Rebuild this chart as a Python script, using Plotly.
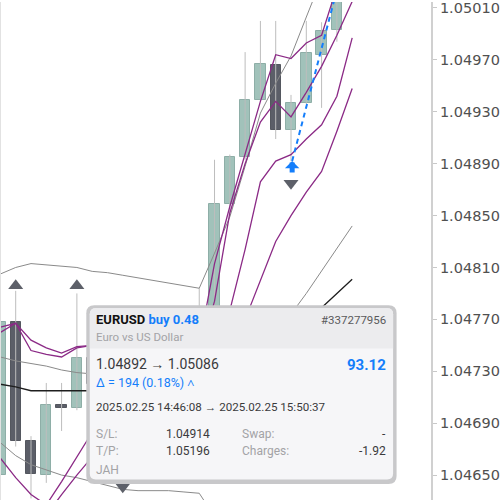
import plotly.graph_objects as go
import pandas as pd

# ---------------- data ----------------
bar_times = list(pd.date_range("2025-02-25 10:00", periods=24, freq="15min"))
candle_times = bar_times[:23]

opens  = [1.04650, 1.04768, 1.04676, 1.04650, 1.04704, 1.04702, 1.04740, 1.04720, 1.04690, 1.04668,
          1.04690, 1.04705, 1.04700, 1.04720, 1.04740, 1.04859, 1.04895, 1.04939, 1.04966, 1.04916,
          1.04937, 1.04974, 1.04993]
highs  = [1.04772, 1.04792, 1.04680, 1.04721, 1.04721, 1.04790, 1.04748, 1.04728, 1.04700, 1.04700,
          1.04715, 1.04718, 1.04728, 1.04794, 1.04893, 1.04897, 1.04976, 1.05000, 1.05000, 1.04943,
          1.05000, 1.04999, 1.05040]
lows   = [1.04640, 1.04672, 1.04632, 1.04644, 1.04684, 1.04700, 1.04700, 1.04670, 1.04646, 1.04660,
          1.04680, 1.04690, 1.04692, 1.04712, 1.04735, 1.04850, 1.04893, 1.04938, 1.04909, 1.04892,
          1.04936, 1.04933, 1.04984]
closes = [1.04768, 1.04676, 1.04651, 1.04704, 1.04702, 1.04740, 1.04720, 1.04690, 1.04668, 1.04690,
          1.04705, 1.04700, 1.04720, 1.04740, 1.04859, 1.04895, 1.04939, 1.04967, 1.04916, 1.04937,
          1.04975, 1.04992, 1.05030]

bb_upper = [1.04805, 1.04810, 1.04813, 1.04812, 1.04811, 1.04810, 1.04807, 1.04806, 1.04804, 1.04802,
            1.04800, 1.04798, 1.04796, 1.04794, 1.04821, 1.04849, 1.04888, 1.04929, 1.04952, 1.04973,
            1.05003, 1.05034, 1.05062, 1.05090]
bb_middle = [1.04741, 1.04738, 1.04736, 1.04734, 1.04731, 1.04729, 1.04728, 1.04726, 1.04725, 1.04724,
             1.04724, 1.04724, 1.04724, 1.04725, 1.04729, 1.04735, 1.04743, 1.04751, 1.04760, 1.04774,
             1.04790, 1.04807, 1.04824, 1.04842]
bb_lower = [1.04675, 1.04665, 1.04658, 1.04654, 1.04650, 1.04648, 1.04645, 1.04642, 1.04639, 1.04638,
            1.04638, 1.04638, 1.04637, 1.04636, 1.04618, 1.04610, 1.04598, 1.04573, 1.04568, 1.04575,
            1.04577, 1.04580, 1.04586, 1.04594]
ma_slow = [1.04720, 1.04718, 1.04715, 1.04715, 1.04715, 1.04715, 1.04715, 1.04714, 1.04714, 1.04714,
           1.04714, 1.04714, 1.04714, 1.04715, 1.04717, 1.04721, 1.04725, 1.04731, 1.04738, 1.04750,
           1.04767, 1.04779, 1.04790, 1.04801]

env_high_1 = [1.04764, 1.04767, 1.04746, 1.04743, 1.04741, 1.04748, 1.04750, 1.04746, 1.04740, 1.04737,
              1.04740, 1.04742, 1.04744, 1.04750, 1.04813, 1.04857, 1.04898, 1.04938, 1.04974, 1.04971,
              1.04983, 1.04989, 1.05026, 1.05061]
env_high_2 = [1.04760, 1.04767, 1.04754, 1.04748, 1.04744, 1.04749, 1.04750, 1.04744, 1.04738, 1.04734,
              1.04737, 1.04738, 1.04740, 1.04742, 1.04784, 1.04852, 1.04890, 1.04922, 1.04938, 1.04926,
              1.04945, 1.04965, 1.04989, 1.05015]
env_low_1 = [1.04663, 1.04648, 1.04635, 1.04627, 1.04645, 1.04664, 1.04683, 1.04685, 1.04680, 1.04677,
             1.04678, 1.04681, 1.04685, 1.04692, 1.04738, 1.04777, 1.04824, 1.04876, 1.04892, 1.04897,
             1.04909, 1.04920, 1.04942, 1.04987]
env_low_2 = [1.04623, 1.04615, 1.04611, 1.04619, 1.04635, 1.04650, 1.04664, 1.04663, 1.04660, 1.04657,
             1.04658, 1.04660, 1.04663, 1.04669, 1.04708, 1.04738, 1.04770, 1.04800, 1.04830, 1.04850,
             1.04868, 1.04884, 1.04915, 1.04948]

fractal_up_idx = [1, 5]
fractal_up_price = [1.04796, 1.04796]
fractal_dn_idx = [8, 19]
fractal_dn_price = [1.04641, 1.04875]

entry_time, exit_time = "2025-02-25 14:46:08", "2025-02-25 15:50:37"
entry_price, exit_price = 1.04892, 1.05086

tick_vals = [1.04650, 1.04690, 1.04730, 1.04770, 1.04810, 1.04850, 1.04890, 1.04930, 1.04970, 1.05010]
tick_text = ["1.04650", "1.04690", "1.04730", "1.04770", "1.04810", "1.04850", "1.04890", "1.04930",
             "1.04970", "1.05010"]

# ---------------- styling ----------------
TEAL, TEAL_LINE = "#a1c2ba", "#8eaea7"
DARK, DARK_LINE = "#5b5e68", "#54575f"
PURPLE = "#8b2a86"
BLUE = "#147efb"
W, H, R_MARGIN = 500, 500, 68
PW = W - R_MARGIN

fig = go.Figure()

# wicks
wx, wy = [], []
for t, hi, lo in zip(candle_times, highs, lows):
    wx += [t, t, None]
    wy += [hi, lo, None]
fig.add_trace(go.Scatter(x=wx, y=wy, mode="lines", line=dict(color="#bdbdbd", width=1), hoverinfo="skip"))

# bodies
bases = [min(o, c) for o, c in zip(opens, closes)]
heights = [max(abs(c - o), 0.00002) for o, c in zip(opens, closes)]
fills = [TEAL if c >= o else DARK for o, c in zip(opens, closes)]
outl = [TEAL_LINE if c >= o else DARK_LINE for o, c in zip(opens, closes)]
fig.add_trace(go.Bar(x=candle_times, y=heights, base=bases, width=15 * 60 * 1000 * 0.68,
                     marker=dict(color=fills, line=dict(color=outl, width=1)), hoverinfo="skip"))

# bollinger bands
for series in (bb_upper, bb_middle, bb_lower):
    fig.add_trace(go.Scatter(x=bar_times, y=series, mode="lines", line=dict(color="#8a8a8a", width=1)))
fig.add_trace(go.Scatter(x=bar_times, y=ma_slow, mode="lines", line=dict(color="#1e1e1e", width=1.3)))
for series in (env_high_1, env_high_2, env_low_1, env_low_2):
    fig.add_trace(go.Scatter(x=bar_times, y=series, mode="lines", line=dict(color=PURPLE, width=1.3)))

# fractals
fig.add_trace(go.Scatter(x=[bar_times[i] for i in fractal_up_idx], y=fractal_up_price, mode="markers",
                         marker=dict(symbol="triangle-up", size=13, color="#5d6069")))
fig.add_trace(go.Scatter(x=[bar_times[i] for i in fractal_dn_idx], y=fractal_dn_price, mode="markers",
                         marker=dict(symbol="triangle-down", size=13, color="#5d6069")))

# trade line
fig.add_trace(go.Scatter(x=[entry_time, exit_time], y=[entry_price, exit_price], mode="lines",
                         line=dict(color=BLUE, width=2, dash="5px,4px")))

fig.add_annotation(x=entry_time, y=entry_price, xref="x", yref="y", text="", showarrow=True,
                   ax=0, ay=13, arrowhead=1, arrowsize=0.48, arrowwidth=5, arrowcolor=BLUE, standoff=0)

# ---------------- tooltip ----------------
def px(x):
    return x / PW

def py(y):
    return 1 - y / H

def rrect(x0, y0, x1, y1, r, bottom_round=True):
    rb = r if bottom_round else 0
    pts = [
        f"M{px(x0 + r)},{py(y0)}", f"L{px(x1 - r)},{py(y0)}",
        f"Q{px(x1)},{py(y0)} {px(x1)},{py(y0 + r)}",
        f"L{px(x1)},{py(y1 - rb)}",
        f"Q{px(x1)},{py(y1)} {px(x1 - rb)},{py(y1)}",
        f"L{px(x0 + rb)},{py(y1)}",
        f"Q{px(x0)},{py(y1)} {px(x0)},{py(y1 - rb)}",
        f"L{px(x0)},{py(y0 + r)}",
        f"Q{px(x0)},{py(y0)} {px(x0 + r)},{py(y0)}", "Z",
    ]
    return " ".join(pts)

shapes = [
    dict(type="line", xref="paper", yref="paper", x0=0, x1=0, y0=0, y1=1, line=dict(color="#e2e2e2", width=2)),
    dict(type="path", xref="paper", yref="paper", path=rrect(86.5, 304.5, 397.5, 484, 8),
         fillcolor="#c8c8ca", line=dict(width=0), layer="above"),
    dict(type="path", xref="paper", yref="paper", path=rrect(90, 307.5, 394, 479.5, 6),
         fillcolor="#f6f6f8", line=dict(width=0), layer="above"),
    dict(type="path", xref="paper", yref="paper", path=rrect(90, 307.5, 394, 348, 6, bottom_round=False),
         fillcolor="#ececee", line=dict(width=0), layer="above"),
]
fig.update_layout(shapes=shapes)

TF = "Roboto"
def label(x, y, text, size, color, anchor="left", bold=False):
    if bold:
        text = f"<b>{text}</b>"
    fig.add_annotation(x=px(x), y=py(y), xref="paper", yref="paper", text=text, showarrow=False,
                       xanchor=anchor, yanchor="middle", font=dict(family=TF, size=size, color=color))

GREY_T, DARK_T = "#a3a3a6", "#3a3a3c"
label(94.5, 319, f"EURUSD <span style='color:{BLUE}'>buy 0.48</span>", 13, "#111111", bold=True)
label(389, 319, "#337277956", 11.5, "#5a5a5c", anchor="right")
label(94.5, 336, "Euro vs US Dollar", 11.5, GREY_T)
label(94.5, 363, "1.04892 → 1.05086", 14, DARK_T)
label(389, 364, "93.12", 15, BLUE, anchor="right", bold=True)
label(94.5, 382, "Δ = 194 (0.18%) <b>˄</b>", 12.5, BLUE)
label(94.5, 407, "2025.02.25 14:46:08 → 2025.02.25 15:50:37", 11.6, DARK_T)
label(94.5, 434, "S/L:", 12, GREY_T)
label(164, 434, "1.04914", 12, DARK_T)
label(241, 434, "Swap:", 12, GREY_T)
label(389, 434, "-", 12, DARK_T, anchor="right")
label(94.5, 451, "T/P:", 12, GREY_T)
label(164, 451, "1.05196", 12, DARK_T)
label(241, 451, "Charges:", 12, GREY_T)
label(389, 451, "-1.92", 12, DARK_T, anchor="right")
label(94.5, 469.5, "JAH", 12, GREY_T)

# ---------------- layout ----------------
fig.update_layout(
    width=W, height=H, margin=dict(l=0, r=R_MARGIN, t=0, b=0),
    paper_bgcolor="white", plot_bgcolor="white", showlegend=False, bargap=0,
    xaxis=dict(type="date", range=["2025-02-25 09:59:36", "2025-02-25 17:02:18"], visible=False),
    yaxis=dict(range=[1.046308, 1.050146], side="right", tickvals=tick_vals, ticktext=tick_text,
               ticks="outside", ticklen=4, tickcolor="#c8c8c8", tickwidth=1, ticklabeloverflow="allow",
               showline=True, linecolor="#d0d0d0", linewidth=2, showgrid=False, zeroline=False,
               tickfont=dict(family="DejaVu Sans", size=14.5, color="#505050")),
)

fig.write_html("out.html", config={"displayModeBar": False},
               post_script="document.body.style.margin='0px';document.body.style.overflow='hidden';")
